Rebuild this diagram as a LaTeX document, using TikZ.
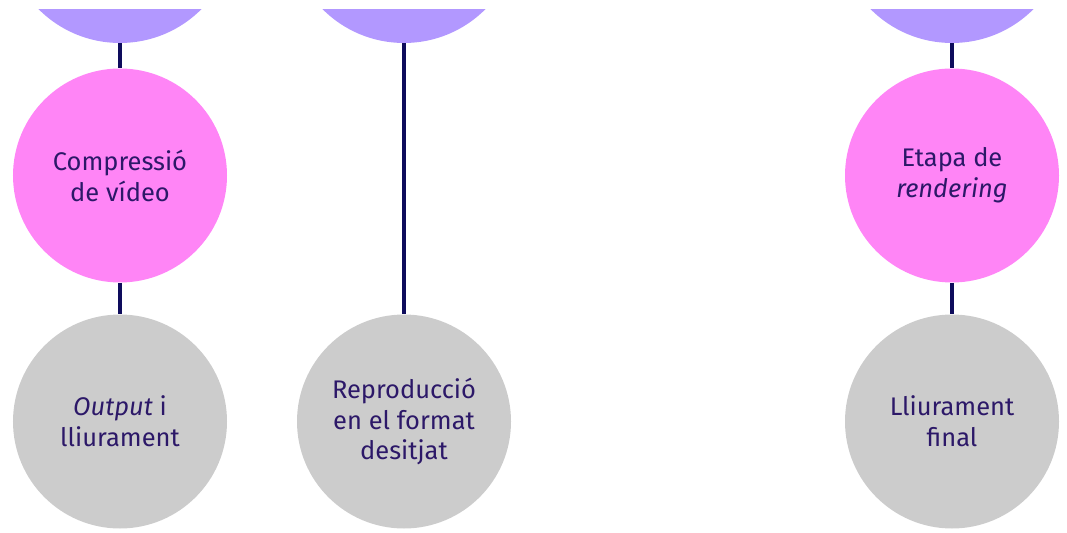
\documentclass[tikz,border=0pt]{standalone}
\usepackage{fontspec}
\setmainfont{Fira Sans}
\usepackage{xcolor}

\definecolor{lavender}{RGB}{178,152,255}
\definecolor{orchid}{RGB}{255,133,246}
\definecolor{stone}{RGB}{204,204,204}
\definecolor{ink}{RGB}{44,24,104}
\definecolor{stem}{RGB}{14,12,92}

\begin{document}
\begin{tikzpicture}[node distance=4.92cm,
    stage/.style={circle, minimum size=4.28cm, inner sep=0pt, align=center,
        text=ink, font=\fontsize{14.5}{17.6}\selectfont},
    topstage/.style={stage, fill=lavender, minimum size=4.6cm},
    midstage/.style={stage, fill=orchid},
    endstage/.style={stage, fill=stone},
    link/.style={stem, line width=2.3pt}]
    \useasboundingbox (0,0) rectangle (21.34,-10.66);
    \clip (0,-0.2) rectangle (21.34,-10.66);
    % bottom row
    \node[endstage] (out1) at (2.4,-8.43) {\textit{Output} i\\lliurament};
    \node[endstage] (out2) at (8.08,-8.43) {Reproducció\\en el format\\desitjat};
    \node[endstage] (out3) at (19.04,-8.43) {Lliurament\\final};
    % middle row
    \node[midstage, above of=out1] (mid1) {Compressió\\de vídeo};
    \node[midstage, above of=out3] (mid3) {Etapa de\\\textit{rendering}};
    % top row, cut by the edge
    \node[topstage, above of=mid1, node distance=4.95cm] (top1) {};
    \node[topstage, above of=out2, node distance=9.87cm] (top2) {};
    \node[topstage, above of=mid3, node distance=4.95cm] (top3) {};
    \draw[link] (top1) -- (mid1);
    \draw[link] (mid1) -- (out1);
    \draw[link] (top2) -- (out2);
    \draw[link] (top3) -- (mid3);
    \draw[link] (mid3) -- (out3);
\end{tikzpicture}
\end{document}
